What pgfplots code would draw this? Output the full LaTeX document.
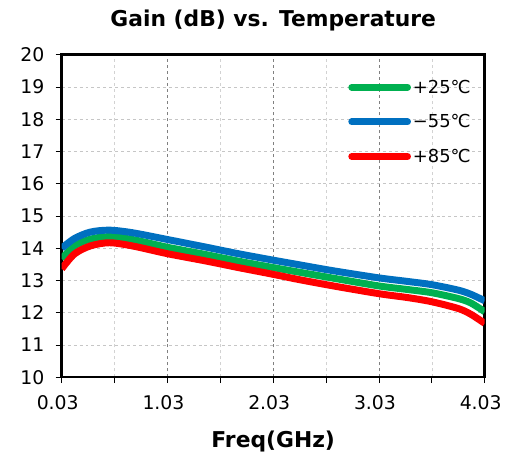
\documentclass[border=0pt]{standalone}
\usepackage{fontspec}
\setmainfont{DejaVu Sans}
\usepackage{pgfplots}
\pgfplotsset{compat=1.18}
\definecolor{cgreen}{RGB}{0,176,80}
\definecolor{cblue}{RGB}{0,112,192}
\definecolor{cred}{RGB}{255,0,0}

\begin{document}
\begin{tikzpicture}
\begin{axis}[
    scale only axis,
    width=425bp, height=324bp,
    xmin=0.03, xmax=4.03, ymin=10, ymax=20,
    xtick={0.03,1.03,2.03,3.03,4.03},
    xticklabels={0.03,1.03,2.03,3.03,4.03},
    minor xtick={0.53,1.53,2.53,3.53},
    ytick={10,11,...,20},
    /pgf/number format/assume math mode=true,
    tick label style={font=\fontsize{19}{21}\selectfont},
    xticklabel style={yshift=-9bp, xshift=-4bp},
    yticklabel style={xshift=-8bp},
    xtick pos=bottom, ytick pos=left,
    tick align=outside,
    major tick length=6bp, minor tick length=6bp,
    tick style={black, line width=0.8bp},
    axis line style={line width=2.5bp},
    xmajorgrids, xminorgrids, ymajorgrids,
    major x grid style={dashed, gray!100, line width=0.6bp},
    minor x grid style={dashed, gray!35, line width=0.6bp},
    major y grid style={dashed, gray!45, line width=0.6bp},
    title={Gain (dB) vs. Temperature},
    title style={font=\fontsize{22}{24}\selectfont\bfseries, yshift=14bp},
    xlabel={Freq(GHz)},
    xlabel style={font=\fontsize{22}{24}\selectfont\bfseries, yshift=-14bp},
    legend style={at={(rel axis cs:0.67,0.935)}, anchor=north west, draw=none, fill=none,
        font=\fontsize{18}{20}\selectfont, row sep=16bp,
        nodes={inner xsep=2bp}},
    legend cell align=left,
    legend image code/.code={\draw[#1, line cap=round] (0bp,0bp) -- (56bp,0bp);},
]
\addplot[cgreen, line width=7bp, smooth] coordinates {
(0.03,13.67) (0.15,14.07) (0.3,14.28) (0.48,14.36) (0.7,14.27) (1.03,14.03)
(1.4,13.8) (1.7,13.6) (2.03,13.4) (2.27,13.26) (2.6,13.07) (3.03,12.83)
(3.3,12.72) (3.53,12.62) (3.78,12.44) (3.9,12.3) (4.03,12.03)};
\addlegendentry{+25℃}
\addplot[cblue, line width=7bp, smooth] coordinates {
(0.03,14.0) (0.15,14.3) (0.3,14.5) (0.48,14.56) (0.7,14.48) (1.03,14.27)
(1.4,14.03) (1.7,13.83) (2.03,13.63) (2.27,13.49) (2.6,13.3) (3.03,13.08)
(3.3,12.97) (3.53,12.87) (3.78,12.7) (3.9,12.57) (4.03,12.37)};
\addlegendentry{−55℃}
\addplot[cred, line width=7bp, smooth] coordinates {
(0.03,13.36) (0.15,13.82) (0.3,14.07) (0.48,14.17) (0.7,14.07) (1.03,13.83)
(1.4,13.6) (1.7,13.4) (2.03,13.19) (2.27,13.03) (2.6,12.83) (3.03,12.59)
(3.3,12.47) (3.53,12.34) (3.78,12.13) (3.9,11.95) (4.03,11.67)};
\addlegendentry{+85℃}
\end{axis}
\path ([shift={(-62bp,-80bp)}]current axis.south west) rectangle ([shift={(18bp,55bp)}]current axis.north east);
\end{tikzpicture}
\end{document}
